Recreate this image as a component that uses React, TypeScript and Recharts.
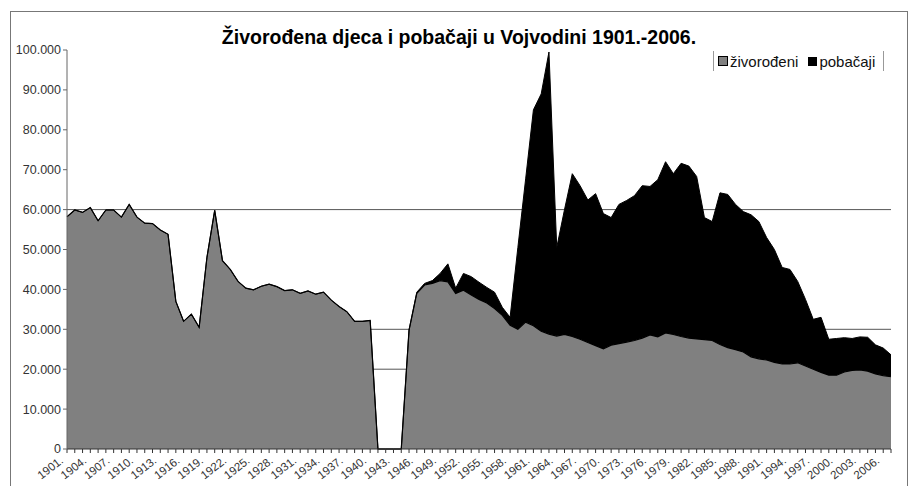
import { Area, AreaChart, CartesianGrid, XAxis, YAxis } from 'recharts';

const years = [
  1901, 1902, 1903, 1904, 1905, 1906, 1907, 1908, 1909, 1910,
  1911, 1912, 1913, 1914, 1915, 1916, 1917, 1918, 1919, 1920,
  1921, 1922, 1923, 1924, 1925, 1926, 1927, 1928, 1929, 1930,
  1931, 1932, 1933, 1934, 1935, 1936, 1937, 1938, 1939, 1940,
  1941, 1942, 1943, 1944, 1945, 1946, 1947, 1948, 1949, 1950,
  1951, 1952, 1953, 1954, 1955, 1956, 1957, 1958, 1959, 1960,
  1961, 1962, 1963, 1964, 1965, 1966, 1967, 1968, 1969, 1970,
  1971, 1972, 1973, 1974, 1975, 1976, 1977, 1978, 1979, 1980,
  1981, 1982, 1983, 1984, 1985, 1986, 1987, 1988, 1989, 1990,
  1991, 1992, 1993, 1994, 1995, 1996, 1997, 1998, 1999, 2000,
  2001, 2002, 2003, 2004, 2005, 2006, 2007,
];

// živorođeni
const liveBirths = [
  58200, 59900, 59300, 60500, 57200, 59900, 59900, 58100, 61300, 58100,
  56600, 56500, 54900, 53800, 37000, 32000, 33800, 30500, 48000, 59800,
  47200, 45000, 42000, 40300, 39900, 40800, 41300, 40700, 39700, 39900,
  39000, 39600, 38800, 39300, 37300, 35700, 34400, 32000, 32000, 32200,
  0, 0, 0, 0, 29800, 39000, 41100, 41500, 42200, 41900,
  39000, 39800, 38600, 37500, 36600, 35200, 33500, 31000, 30000, 31800,
  30900, 29500, 28800, 28300, 28700, 28200, 27500, 26700, 25900, 25100,
  26000, 26400, 26800, 27200, 27800, 28600, 28100, 29100, 28700, 28200,
  27800, 27600, 27400, 27200, 26200, 25400, 24900, 24300, 23100, 22600,
  22300, 21700, 21300, 21300, 21600, 20800, 20000, 19200, 18500, 18500,
  19300, 19700, 19800, 19500, 18800, 18400, 18100,
];

// pobačaji
const abortions = [
  0, 0, 0, 0, 0, 0, 0, 0, 0, 0,
  0, 0, 0, 0, 0, 0, 0, 0, 0, 0,
  0, 0, 0, 0, 0, 0, 0, 0, 0, 0,
  0, 0, 0, 0, 0, 0, 0, 0, 0, 0,
  0, 0, 0, 0, 0, 300, 400, 700, 1800, 4500,
  1300, 4200, 4600, 4300, 3900, 4100, 2000, 2000, 20500, 35900,
  54100, 59500, 70700, 22200, 31300, 40800, 38500, 35700, 38100, 33900,
  32000, 34900, 35500, 36300, 38200, 37200, 39400, 42900, 40300, 43400,
  43100, 40700, 30600, 29800, 38000, 38400, 36400, 35200, 35600, 34400,
  30700, 28300, 24200, 23700, 20400, 16700, 12500, 13800, 9000, 9200,
  8600, 8000, 8300, 8500, 7300, 6900, 5500,
];

const yTicks = [0, 10000, 20000, 30000, 40000, 50000, 60000, 70000, 80000, 90000, 100000];
const gridValues = [20000, 30000, 60000];

const data = years.map((year, i) => ({
  year,
  zivorodeni: liveBirths[i],
  pobacaji: abortions[i],
}));

const font = '"Liberation Sans", Arial, sans-serif';

const fmt = (v: number) => String(v).replace(/\B(?=(\d{3})+(?!\d))/g, '.');

function YearTick(props: any) {
  const { x, y, payload } = props;
  if (payload.index % 3 !== 0) return <g />;
  const tx = x - 3;
  const ty = y + 7;
  return (
    <text
      x={tx}
      y={ty}
      transform={`rotate(-38 ${tx} ${ty})`}
      textAnchor="end"
      fontSize={11.5}
      fontFamily={font}
      fill="#333"
    >
      {payload.value}.
    </text>
  );
}

function ChartLegend() {
  return (
    <div
      style={{
        position: 'absolute',
        left: 713,
        top: 51,
        display: 'flex',
        alignItems: 'center',
        height: 20,
        borderLeft: '1px solid #999',
        borderRight: '1px solid #999',
        padding: '0 8px 0 4px',
        fontFamily: font,
        fontSize: 15,
        color: '#111',
      }}
    >
      <span style={{ width: 8, height: 8, background: '#808080', border: '1px solid #000', marginRight: 2 }} />
      <span style={{ marginRight: 10 }}>živorođeni</span>
      <span style={{ width: 9, height: 9, background: '#000', marginRight: 2 }} />
      <span>pobačaji</span>
    </div>
  );
}

export default function App() {
  return (
    <div style={{ position: 'absolute', left: 0, top: 0, width: 911, height: 486, background: '#fff', overflow: 'hidden' }}>
      <div
        style={{
          position: 'absolute',
          left: 10,
          top: 11,
          width: 896,
          height: 520,
          border: '1.5px solid #777',
        }}
      />
      <AreaChart
        width={911}
        height={486}
        data={data}
        margin={{ top: 50, right: 20, bottom: 0, left: 0 }}
        style={{ position: 'absolute', left: 0, top: 0 }}
      >
        <CartesianGrid vertical={false} horizontalValues={gridValues} stroke="#555" strokeWidth={1} />
        <XAxis
          dataKey="year"
          interval={0}
          height={37}
          tick={<YearTick />}
          tickSize={4}
          axisLine={{ stroke: '#333' }}
          tickLine={{ stroke: '#333' }}
        />
        <YAxis
          domain={[0, 100000]}
          ticks={yTicks}
          width={67}
          tickSize={4}
          tickFormatter={fmt}
          tick={{ fontSize: 12.5, fontFamily: font, fill: '#333' }}
          axisLine={{ stroke: '#666' }}
          tickLine={{ stroke: '#666' }}
        />
        <Area
          type="linear"
          dataKey="zivorodeni"
          name="živorođeni"
          stackId="a"
          fill="#808080"
          fillOpacity={1}
          stroke="#000"
          strokeWidth={1.2}
          isAnimationActive={false}
        />
        <Area
          type="linear"
          dataKey="pobacaji"
          name="pobačaji"
          stackId="a"
          fill="#000"
          fillOpacity={1}
          stroke="#000"
          strokeWidth={1}
          isAnimationActive={false}
        />
      </AreaChart>
      <div
        style={{
          position: 'absolute',
          left: 0,
          top: 26,
          width: 911,
          textAlign: 'center',
          fontFamily: font,
          fontWeight: 'bold',
          fontSize: 19.5,
          color: '#000',
          paddingLeft: 7,
          boxSizing: 'border-box',
        }}
      >
        Živorođena djeca i pobačaji u Vojvodini 1901.-2006.
      </div>
      <ChartLegend />
    </div>
  );
}
